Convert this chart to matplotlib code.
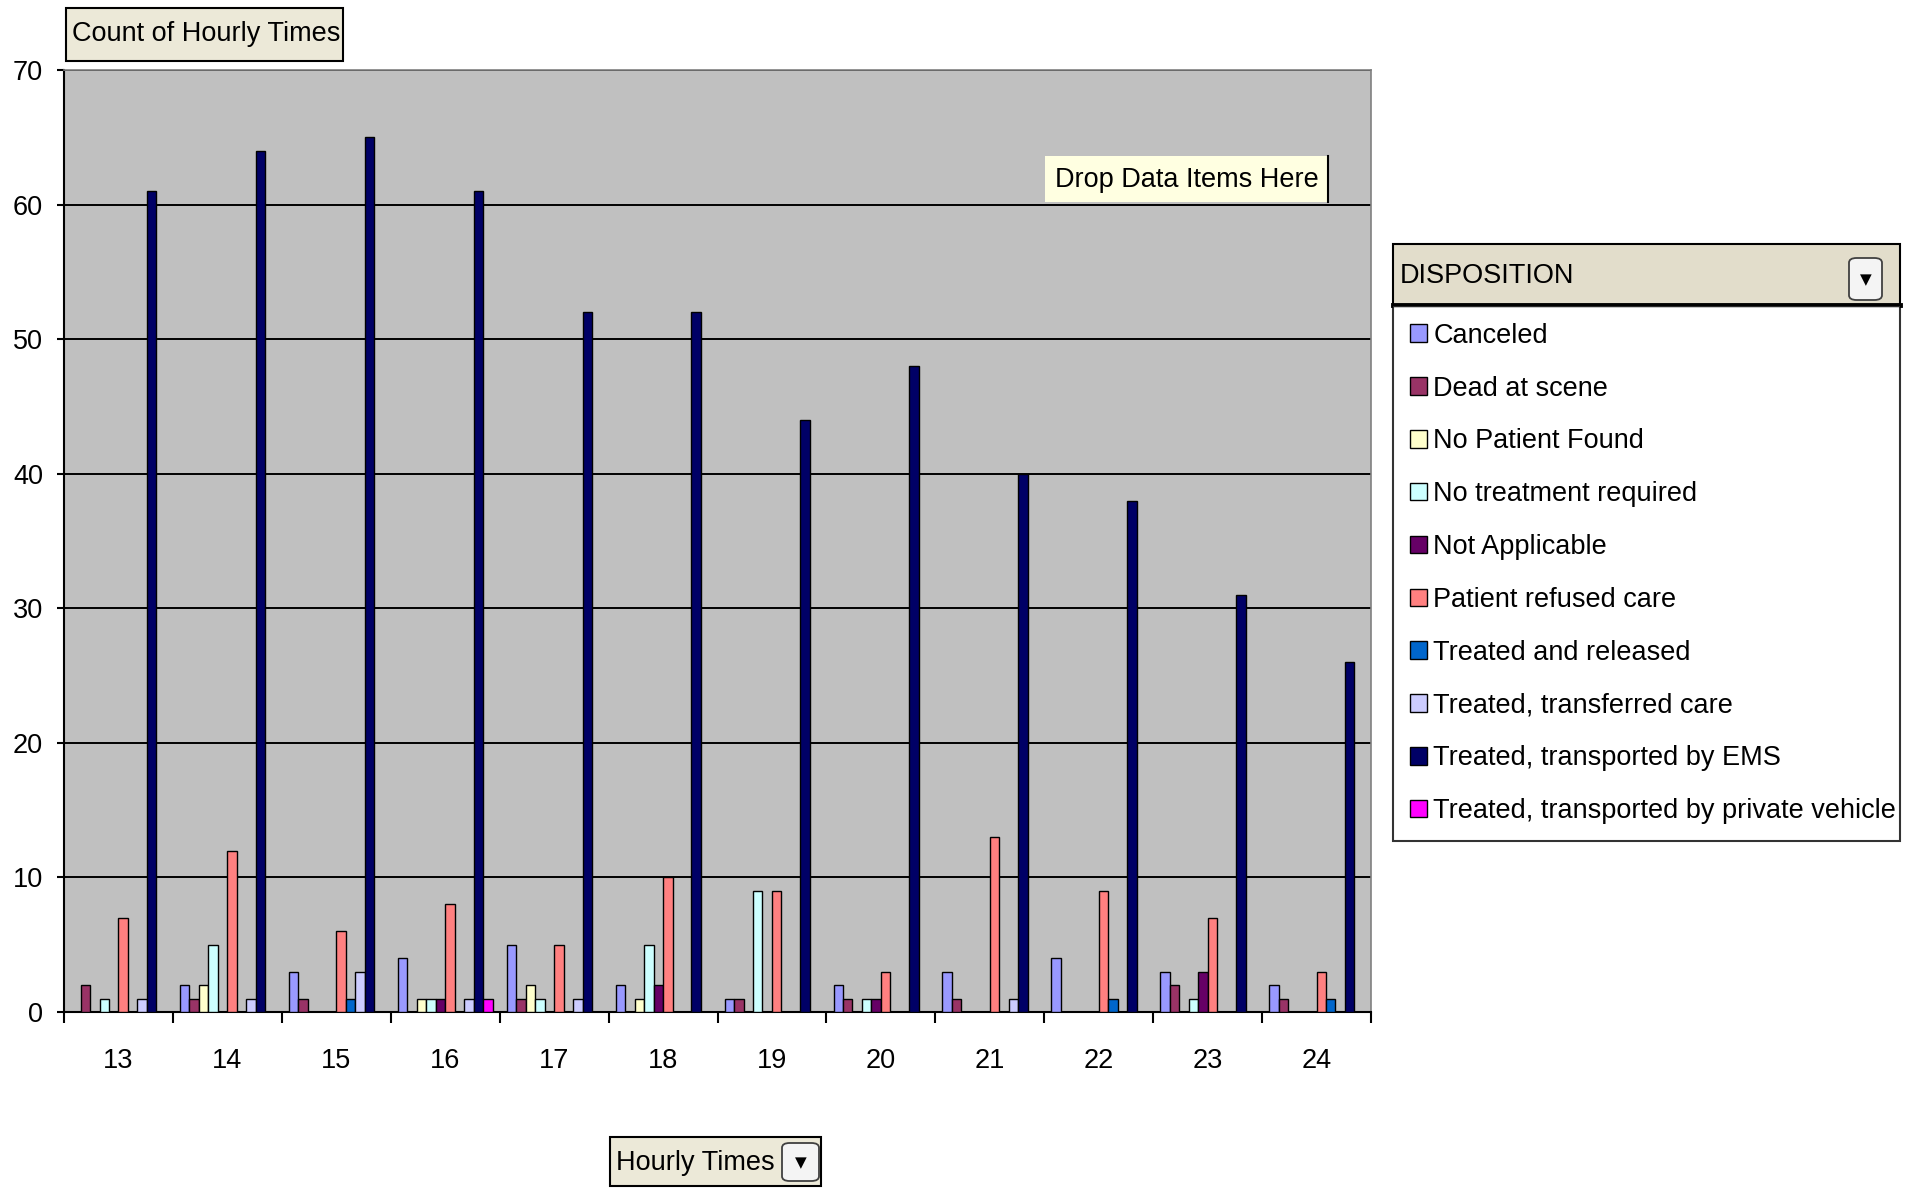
import numpy as np
import matplotlib
matplotlib.use("Agg")
import matplotlib.pyplot as plt
from matplotlib.patches import Rectangle, FancyBboxPatch

plt.rcParams['font.family'] = ['Liberation Sans', 'DejaVu Sans']

hours = [13, 14, 15, 16, 17, 18, 19, 20, 21, 22, 23, 24]

canceled = [0, 2, 3, 4, 5, 2, 1, 2, 3, 4, 3, 2]
dead_at_scene = [2, 1, 1, 0, 1, 0, 1, 1, 1, 0, 2, 1]
no_patient_found = [0, 2, 0, 1, 2, 1, 0, 0, 0, 0, 0, 0]
no_treatment = [1, 5, 0, 1, 1, 5, 9, 1, 0, 0, 1, 0]
not_applicable = [0, 0, 0, 1, 0, 2, 0, 1, 0, 0, 3, 0]
refused_care = [7, 12, 6, 8, 5, 10, 9, 3, 13, 9, 7, 3]
treated_released = [0, 0, 1, 0, 0, 0, 0, 0, 0, 1, 0, 1]
transferred_care = [1, 1, 3, 1, 1, 0, 0, 0, 1, 0, 0, 0]
transported_ems = [61, 64, 65, 61, 52, 52, 44, 48, 40, 38, 31, 26]
private_vehicle = [0, 0, 0, 1, 0, 0, 0, 0, 0, 0, 0, 0]

series_names = ['Canceled', 'Dead at scene', 'No Patient Found',
                'No treatment required', 'Not Applicable', 'Patient refused care',
                'Treated and released', 'Treated, transferred care',
                'Treated, transported by EMS',
                'Treated, transported by private vehicle']
series_values = [canceled, dead_at_scene, no_patient_found, no_treatment,
                 not_applicable, refused_care, treated_released,
                 transferred_care, transported_ems, private_vehicle]
colors = ['#9999FF', '#993366', '#FFFFCC', '#CCFFFF', '#660066',
          '#FF8080', '#0066CC', '#CCCCFF', '#000066', '#FF00FF']

W, H = 1916, 1188
FS = 19.5


def fx(px):
    return px / W


def fy(py):
    return 1 - py / H


fig = plt.figure(figsize=(W / 100, H / 100), dpi=100)
ax = fig.add_axes([fx(64), fy(1012), fx(1371) - fx(64), fy(70) - fy(1012)])
ax.set_facecolor('#C0C0C0')

x = np.arange(len(hours))
n = len(series_values)
bw = 1 / (n + 1.5)
handles = []
for i, (vals, col) in enumerate(zip(series_values, colors)):
    b = ax.bar(x + (i - (n - 1) / 2) * bw, vals, width=bw, color=col,
               edgecolor='black', linewidth=1.0, zorder=3)
    handles.append(b)

ax.set_xlim(-0.5, len(hours) - 0.5)
ax.set_ylim(0, 70)
ax.set_yticks(range(0, 71, 10))
ax.yaxis.grid(True, color='black', linewidth=1.4, zorder=1)
ax.set_axisbelow(True)

# category boundaries get the tick marks, labels sit in between
ax.set_xticks(np.arange(-0.5, len(hours), 1))
ax.set_xticklabels([])
ax.set_xticks(x, minor=True)
ax.set_xticklabels([str(h) for h in hours], minor=True)
ax.tick_params(axis='x', which='major', length=8, width=1.5, direction='out')
ax.tick_params(axis='x', which='minor', length=0, pad=26, labelsize=FS)
ax.tick_params(axis='y', length=5, width=1.5, pad=10, labelsize=FS)

for s in ['left', 'bottom']:
    ax.spines[s].set_linewidth(1.5)
    ax.spines[s].set_color('black')
for s in ['top', 'right']:
    ax.spines[s].set_linewidth(1.2)
    ax.spines[s].set_color('#808080')

# legend (entries part)
leg = fig.legend(handles, series_names, loc='upper left',
                 bbox_to_anchor=(fx(1393), fy(829), fx(1900) - fx(1393), fy(306) - fy(829)),
                 mode='expand', borderaxespad=0, fancybox=False, frameon=True,
                 edgecolor='black', fontsize=FS, handlelength=0.62, handleheight=0.62,
                 handletextpad=0.25, labelspacing=0.99, borderpad=0.62)
leg.get_frame().set_linewidth(1.5)

# legend header with dropdown
fig.add_artist(Rectangle((fx(1393), fy(306)), fx(1900) - fx(1393), fy(244) - fy(306),
                         transform=fig.transFigure, facecolor='#E2DDCB',
                         edgecolor='black', linewidth=1.5))
fig.add_artist(plt.Line2D([fx(1393), fx(1900)], [fy(305), fy(305)],
                          transform=fig.transFigure, color='black', linewidth=3.5))
fig.text(fx(1400), fy(276), 'DISPOSITION', fontsize=FS, va='center', ha='left')
fig.add_artist(FancyBboxPatch((fx(1849), fy(300)), fx(1882) - fx(1849), fy(258) - fy(300),
                              boxstyle='round,pad=0,rounding_size=0.004',
                              transform=fig.transFigure, facecolor='#F4F4F4',
                              edgecolor='#404040', linewidth=1.3))
fig.text(fx(1865.5), fy(280), '\u25BC', fontsize=11, ha='center', va='center',
         family='DejaVu Sans')

# "Count of Hourly Times" field button
fig.add_artist(Rectangle((fx(66), fy(61)), fx(343) - fx(66), fy(8) - fy(61),
                         transform=fig.transFigure, facecolor='#ECE9D8',
                         edgecolor='black', linewidth=1.5))
fig.text(fx(72), fy(34), 'Count of Hourly Times', fontsize=FS, va='center', ha='left')

# drop zone tooltip
fig.add_artist(Rectangle((fx(1045), fy(202)), fx(1328) - fx(1045), fy(156) - fy(202),
                         transform=fig.transFigure, facecolor='#FFFFE1',
                         edgecolor='none', zorder=5))
fig.add_artist(plt.Line2D([fx(1328), fx(1328)], [fy(156), fy(202)],
                          transform=fig.transFigure, color='black', linewidth=1.5, zorder=6))
fig.text(fx(1055), fy(180), 'Drop Data Items Here', fontsize=FS, va='center', ha='left', zorder=7)

# "Hourly Times" field button
fig.add_artist(Rectangle((fx(610), fy(1186)), fx(821) - fx(610), fy(1137) - fy(1186),
                         transform=fig.transFigure, facecolor='#ECE9D8',
                         edgecolor='black', linewidth=1.5))
fig.text(fx(616), fy(1163), 'Hourly Times', fontsize=FS, va='center', ha='left')
fig.add_artist(FancyBboxPatch((fx(782), fy(1181)), fx(819) - fx(782), fy(1143) - fy(1181),
                              boxstyle='round,pad=0,rounding_size=0.004',
                              transform=fig.transFigure, facecolor='#F4F4F4',
                              edgecolor='#404040', linewidth=1.3))
fig.text(fx(800.5), fy(1163), '\u25BC', fontsize=11, ha='center', va='center',
         family='DejaVu Sans')

fig.savefig('out.png', dpi=100)
